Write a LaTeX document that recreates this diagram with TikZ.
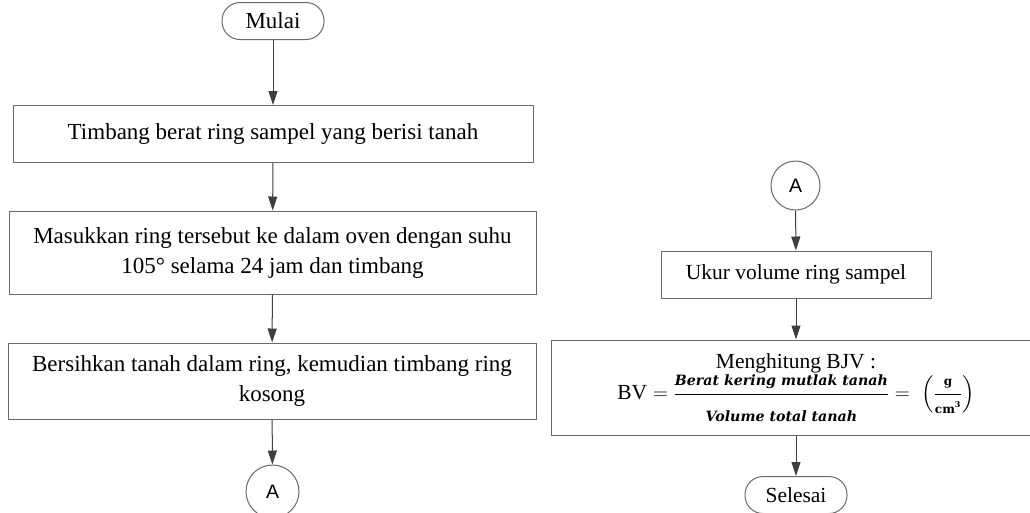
\documentclass[tikz,border=0pt]{standalone}
\usepackage{amsmath}
\usepackage{fontspec}
\setmainfont{Liberation Serif}
\newfontfamily\sansA{Liberation Sans}
\newfontfamily\fracfont{DejaVu Serif}
\usetikzlibrary{arrows.meta}
\definecolor{boxline}{HTML}{6A6A6A}
\definecolor{arrline}{HTML}{3E3E3E}
\tikzset{
  proc/.style={draw=boxline, line width=1pt, fill=white, rectangle, inner sep=0pt,
    align=center, font=\fontsize{23}{30}\selectfont},
  procR/.style={proc, font=\fontsize{21.5}{30}\selectfont},
  term/.style={draw=boxline, line width=1pt, fill=white, rectangle, rounded corners=18pt,
    inner sep=0pt, minimum width=102pt, minimum height=37pt, font=\fontsize{23}{26}\selectfont},
  termR/.style={term, font=\fontsize{21.5}{26}\selectfont},
  conn/.style={draw=boxline, line width=1pt, fill=white, circle, inner sep=0pt,
    font=\sansA\fontsize{19.5}{22}\selectfont},
  flow/.style={draw=arrline, line width=1pt, -{Triangle[length=14pt,width=9pt]}}
}
\newcommand{\frtxt}[1]{\text{\fracfont\bfseries\itshape\fontsize{14.2}{15}\selectfont #1}}
\newcommand{\untxt}[1]{\text{\fracfont\bfseries\fontsize{12}{13}\selectfont #1}}
\begin{document}
\begin{tikzpicture}[x=1pt,y=-1pt]
\useasboundingbox (0,0) rectangle (1030,512);
\clip (0,0) rectangle (1030,512);
\fill[white] (0,0) rectangle (1030,512);

% left column
\node[term] (mulai) at (273,21) {Mulai};
\node[proc, minimum width=520pt, minimum height=57pt] (b1) at (273,134)
  {Timbang berat ring sampel yang berisi tanah};
\node[proc, minimum width=527pt, minimum height=83pt] (b2) at (272.5,252.5)
  {Masukkan ring tersebut ke dalam oven dengan suhu\\105° selama 24 jam dan timbang};
\node[proc, minimum width=528pt, minimum height=76pt] (b3) at (272,381)
  {Bersihkan tanah dalam ring, kemudian timbang ring\\kosong};
\node[conn, minimum size=53pt] (a1) at (272.5,491.5) {A};

% right column
\node[conn, minimum size=49pt] (a2) at (795.5,185.5) {A};
\node[procR, minimum width=270pt, minimum height=47pt] (ukur) at (796,274.5)
  {Ukur volume ring sampel};
\node[procR, minimum width=490pt, minimum height=95pt] (bjv) at (796,387.5)
  {Menghitung BJV :\\[1pt]
   $\text{BV} = \dfrac{\frtxt{Berat kering mutlak tanah}}{\rule{0pt}{24pt}\frtxt{Volume total tanah}}
   = \;\left(\dfrac{\untxt{g}}{\untxt{cm}^{\untxt{\fontsize{8}{8}\selectfont 3}}}\right)$};
\node[termR] (selesai) at (796,495) {Selesai};

% connectors
\draw[flow] (mulai) -- (b1);
\draw[flow] (b1) -- (b2);
\draw[flow] (b2) -- (b3);
\draw[flow] (b3) -- (a1);
\draw[flow] (a2) -- (ukur);
\draw[flow] (ukur) -- (bjv);
\draw[flow] (bjv) -- (selesai);
\end{tikzpicture}
\end{document}
